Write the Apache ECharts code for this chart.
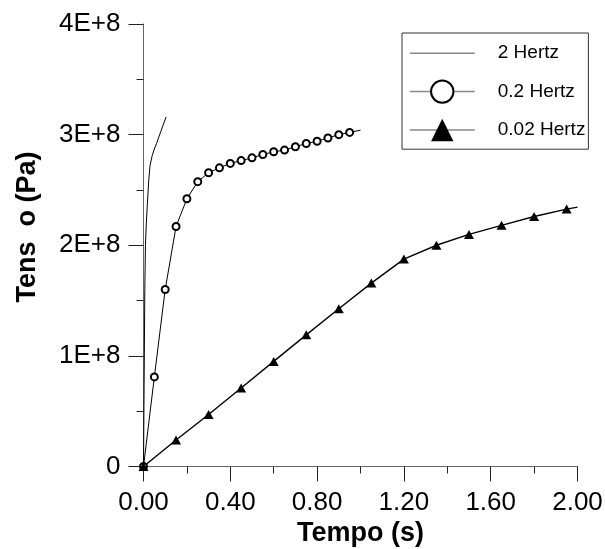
<!DOCTYPE html>
<html>
<head>
<meta charset="utf-8">
<script src="https://cdn.jsdelivr.net/npm/echarts@6/dist/echarts.min.js"></script>
<style>
  html, body { margin: 0; padding: 0; background: #fff; }
  #chart { width: 605px; height: 549px; }
</style>
</head>
<body>
<div id="chart"></div>
<script>
// stress (Pa) vs time (s) for three loading frequencies
const hz2T = [0, 0.003, 0.006, 0.009, 0.013, 0.018, 0.024, 0.03, 0.04, 0.05, 0.06, 0.08, 0.104];
const hz2S = [0, 0.8e8, 1.6e8, 2.0e8, 2.2e8, 2.38e8, 2.58e8, 2.72e8, 2.81e8, 2.87e8, 2.92e8, 3.03e8, 3.16e8];

const hz02T = [0, 0.05, 0.1, 0.15, 0.2, 0.25, 0.3, 0.35, 0.4, 0.45, 0.5,
               0.55, 0.6, 0.65, 0.7, 0.75, 0.8, 0.85, 0.9, 0.95, 1.0];
const hz02S = [0, 0.81e8, 1.6e8, 2.17e8, 2.42e8, 2.575e8, 2.655e8, 2.70e8, 2.74e8, 2.765e8, 2.79e8,
               2.82e8, 2.845e8, 2.86e8, 2.89e8, 2.92e8, 2.94e8, 2.97e8, 3.0e8, 3.02e8, 3.04e8];

const hz002T = [0, 0.15, 0.3, 0.45, 0.6, 0.75, 0.9, 1.05, 1.2, 1.35, 1.5, 1.65, 1.8, 1.95, 2.0];
const hz002S = [0, 0.24e8, 0.47e8, 0.71e8, 0.95e8, 1.19e8, 1.426e8, 1.658e8, 1.875e8, 2.0e8,
                2.098e8, 2.18e8, 2.26e8, 2.327e8, 2.345e8];

const NAMES = ["2 Hertz", "0.2 Hertz", "0.02 Hertz"];
const FONT = "Liberation Sans, Arial, sans-serif";

// last point of the marked series is only a line end, no marker
const pts = (xs, ys, openEnd) => xs.map((x, i) =>
  (openEnd && i === xs.length - 1) ? { value: [x, ys[i]], symbol: "none" } : [x, ys[i]]);

const axisCommon = {
  axisLine: { show: true, lineStyle: { color: "#666", width: 1 } },
  axisTick: { show: true, inside: false, length: 15, lineStyle: { color: "#222" } },
  minorTick: { show: true, splitNumber: 2, length: 7, lineStyle: { color: "#222" } },
  splitLine: { show: false },
  minorSplitLine: { show: false },
};

const chart = echarts.init(document.getElementById("chart"), null, { renderer: "canvas" });
chart.setOption({
  animation: false,
  backgroundColor: "#fff",
  grid: { left: 143.5, right: 27.5, top: 24, bottom: 82.5, containLabel: false, outerBoundsMode: "none" },
  xAxis: Object.assign({
    type: "value", min: 0, max: 2, interval: 0.4,
    name: "Tempo (s)", nameLocation: "middle", nameGap: 43,
    nameTextStyle: { fontFamily: FONT, fontSize: 27, fontWeight: "bold", color: "#000" },
    axisLabel: { margin: 23, fontFamily: FONT, fontSize: 26, color: "#000", interval: 0,
                 showMinLabel: true, showMaxLabel: true, formatter: (v) => v.toFixed(2) },
  }, axisCommon),
  yAxis: Object.assign({
    type: "value", min: 0, max: 4e8, interval: 1e8,
    axisLabel: { margin: 23, fontFamily: FONT, fontSize: 26, color: "#000",
                 formatter: (v) => v === 0 ? "0" : Math.round(v / 1e8) + "E+8" },
  }, axisCommon),
  graphic: [{
    type: "text", x: 28, y: 227, rotation: Math.PI / 2,
    style: { text: "Tens  o (Pa)", font: "bold 27px " + FONT, fill: "#000",
             align: "center", verticalAlign: "middle" },
  }],
  legend: {
    orient: "vertical", left: 402, top: 33,
    data: [
      { name: NAMES[0], itemStyle: { opacity: 0 } },
      { name: NAMES[1], itemStyle: { borderWidth: 1 } },
      { name: NAMES[2] },
    ],
    itemWidth: 65, itemHeight: 28, itemGap: 15,
    padding: [9, 3, 8, 7],
    borderColor: "#333", borderWidth: 1,
    lineStyle: { color: "#888", width: 1.5 },
    textStyle: { fontFamily: FONT, fontSize: 19, color: "#000", padding: [0, 0, 0, 18] },
  },
  series: [
    { name: NAMES[0], type: "line", data: pts(hz2T, hz2S, false),
      symbol: "none", lineStyle: { color: "#000", width: 1 }, itemStyle: { color: "#000" } },
    { name: NAMES[1], type: "line", data: pts(hz02T, hz02S, true),
      symbol: "emptyCircle", symbolSize: 7, showAllSymbol: true,
      lineStyle: { color: "#000", width: 1 },
      itemStyle: { color: "#000", borderColor: "#000", borderWidth: 1 } },
    { name: NAMES[2], type: "line", data: pts(hz002T, hz002S, true),
      symbol: "triangle", symbolSize: [10, 9], showAllSymbol: true,
      lineStyle: { color: "#000", width: 1.4 },
      itemStyle: { color: "#000" } },
  ],
});
</script>
</body>
</html>
